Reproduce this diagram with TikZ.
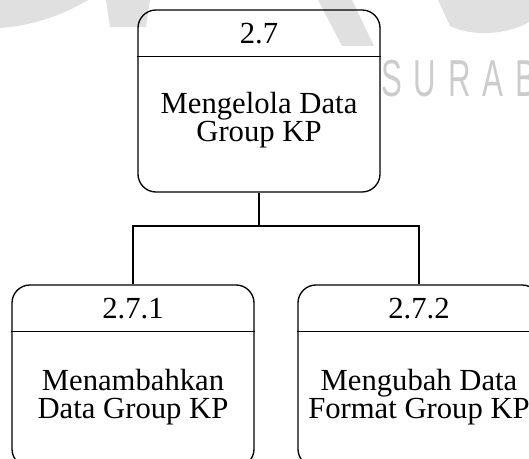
\documentclass[tikz,border=0pt]{standalone}
\usepackage{fontspec}
\setmainfont{Liberation Serif}
\newfontfamily\wmfont[LetterSpace=38]{Liberation Sans}
\usetikzlibrary{calc}
\tikzset{
  proses/.style={draw=black, line width=1pt, rounded corners=13.5pt, minimum width=181.5pt, minimum height=136.5pt, inner sep=0pt},
  nomor/.style={font=\fontsize{23}{21}\selectfont},
  isi/.style={font=\fontsize{23}{21.5}\selectfont, align=center},
  garis/.style={line width=1pt},
  logo/.style={fill=black, opacity=0.12, draw=none},
  watermark/.style={text=black, text opacity=0.2, font=\wmfont\fontsize{39}{39}\selectfont, inner sep=0pt}
}

\begin{document}
\begin{tikzpicture}[x=0.75pt, y=-0.75pt]
  \useasboundingbox (0,0) rectangle (529,459);

  \node[proses] (P27) at (259,101) {};
  \node[proses] (P271) at (133,376) {};
  \node[proses] (P272) at (419,376) {};

  \draw[garis] ($(P27.north west)+(0,47)$) -- ($(P27.north east)+(0,47)$);
  \draw[garis] ($(P271.north west)+(0,47)$) -- ($(P271.north east)+(0,47)$);
  \draw[garis] ($(P272.north west)+(0,47)$) -- ($(P272.north east)+(0,47)$);

  \node[nomor] (N27) at (259,34) {2.7};
  \node[nomor] (N271) at (133,309) {2.7.1};
  \node[nomor] (N272) at (419,309) {2.7.2};

  \node[isi] (T27) at (259,120) {Mengelola Data\\Group KP};
  \node[isi] (T271) at (133,397) {Menambahkan\\Data Group KP};
  \node[isi] (T272) at (419,397) {Mengubah Data\\Format Group KP};

  \coordinate (J) at (259,226);
  \draw[garis] (P27.south) -- (J);
  \draw[garis] (J) -| (P271.north);
  \draw[garis] (J) -| (P272.north);

  \fill[logo] (0,0) -- (88,0) .. controls (62,16) and (30,26) .. (0,28) -- cycle;
  \fill[logo] (106,0) -- (150,0) -- (146,27) -- (110,27) -- cycle;
  \fill[logo] (318,0) -- (352,0) -- (374,46) -- (342,46) -- cycle;
  \fill[logo] (438,0) -- (529,0) -- (529,22) .. controls (505,36) and (470,36) .. (450,26) -- cycle;
  \node[watermark, anchor=base west] (WM) at (381,97) {\scalebox{0.6}[1]{SURAB}};
\end{tikzpicture}
\end{document}
